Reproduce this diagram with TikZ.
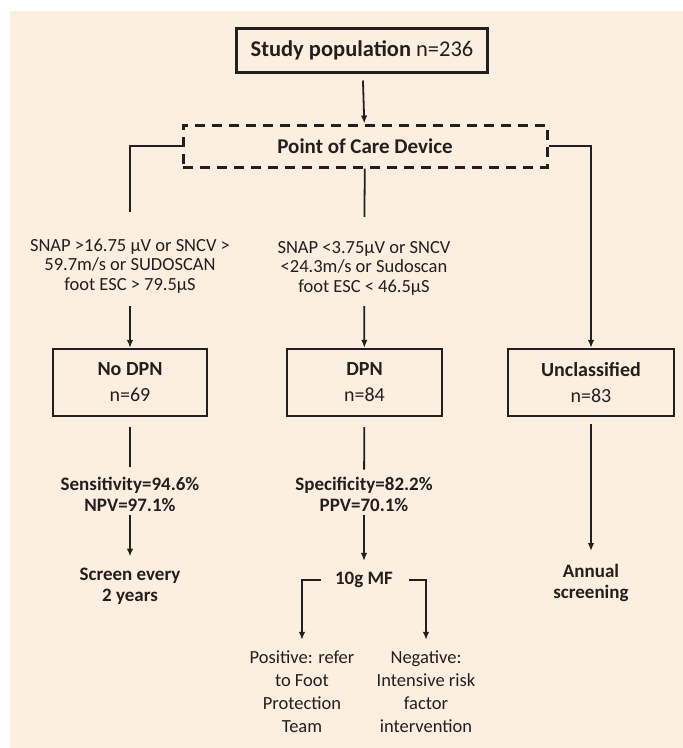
\documentclass[tikz,border=0pt]{standalone}
\usepackage{fontspec}
\setmainfont{Carlito}
\usetikzlibrary{arrows.meta}
\definecolor{cream}{HTML}{FDEFE0}
\definecolor{ink}{HTML}{231F20}
\tikzset{
  every node/.style = {text=ink, align=center, inner sep=0pt,
    font=\fontsize{18.5}{22}\selectfont},
  box/.style = {draw=ink, line width=2.2pt, minimum width=155, minimum height=67,
    font=\fontsize{20}{26}\selectfont},
  crit/.style = {font=\fontsize{18.5}{19.5}\selectfont},
  boldtext/.style = {font=\bfseries\fontsize{19}{21}\selectfont},
  link/.style = {draw=ink, line width=1.8pt}
}
\tikzset{>={Latex[length=8pt,width=6.5pt]}}

\begin{document}
\begin{tikzpicture}[x=1pt,y=-1pt]
  \useasboundingbox (0,0) rectangle (683,748);
  % background
  \fill[cream] (10,11) rectangle (683,748);
  % top boxes
  \node[box, line width=3pt, minimum width=251, minimum height=44,
    font=\fontsize{22.5}{26}\selectfont] (pop)
    at (362,50) {\textbf{Study population} n=236};
  \node[box, line width=3pt, dash pattern=on 10pt off 7pt,
    minimum width=364, minimum height=42,
    font=\bfseries\fontsize{21}{24}\selectfont] (pocd)
    at (365,146) {Point of Care Device};
  % criteria
  \node[crit] (lcrit) at (130,266)
    {SNAP >16.75 µV or SNCV >\\59.7m/s or SUDOSCAN\\foot ESC > 79.5µS};
  \node[crit] (mcrit) at (364,268)
    {SNAP <3.75µV or SNCV\\<24.3m/s or Sudoscan\\foot ESC < 46.5µS};
  % groups
  \node[box, minimum width=154] (nodpn) at (130,382.5) {\textbf{No DPN}\\n=69};
  \node[box] (dpn) at (364.5,382.5) {\textbf{DPN}\\n=84};
  \node[box, minimum width=166] (uncl) at (591,382.5) {\textbf{Unclassified}\\n=83};
  % results
  \node[boldtext] (lstat) at (130,494) {Sensitivity=94.6\%\\NPV=97.1\%};
  \node[boldtext] (mstat) at (364,494) {Specificity=82.2\%\\PPV=70.1\%};
  \node[boldtext] (lscreen) at (130,586) {Screen every\\2 years};
  \node[boldtext] (mf) at (364,580) {10g MF};
  \node[boldtext] (annual) at (591,583) {Annual\\screening};
  \node[font=\fontsize{18.5}{23}\selectfont] (pos) at (302,692)
    {Positive: refer\\to Foot\\Protection\\Team};
  \node[font=\fontsize{18.5}{23}\selectfont] (neg) at (426,692)
    {Negative:\\Intensive risk\\factor\\intervention};
  % connectors
  \draw[link,->,shorten <=7pt] (pop) -- (pocd);
  \draw[link,shorten >=27pt] (pocd.west) -| (lcrit);
  \draw[link,shorten >=24pt] (pocd) -- (mcrit);
  \draw[link,->] (pocd.east) -| (uncl);
  \draw[link,->,shorten <=13pt] (lcrit) -- (nodpn);
  \draw[link,->,shorten <=11pt] (mcrit) -- (dpn);
  \draw[link,shorten <=10pt,shorten >=10pt] (nodpn) -- (lstat);
  \draw[link,shorten <=10pt,shorten >=7pt] (dpn) -- (mstat);
  \draw[link,->,shorten <=4pt,shorten >=11pt] (lstat) -- (lscreen);
  \draw[link,->,shorten <=4pt,shorten >=11pt] (mstat) -- (mf);
  \draw[link,->,shorten <=7pt,shorten >=13pt] (uncl) -- (annual);
  \draw[link,->,shorten <=14pt,shorten >=11pt] (mf.west) -| (pos);
  \draw[link,->,shorten <=16pt,shorten >=11pt] (mf.east) -| (neg);
\end{tikzpicture}
\end{document}
